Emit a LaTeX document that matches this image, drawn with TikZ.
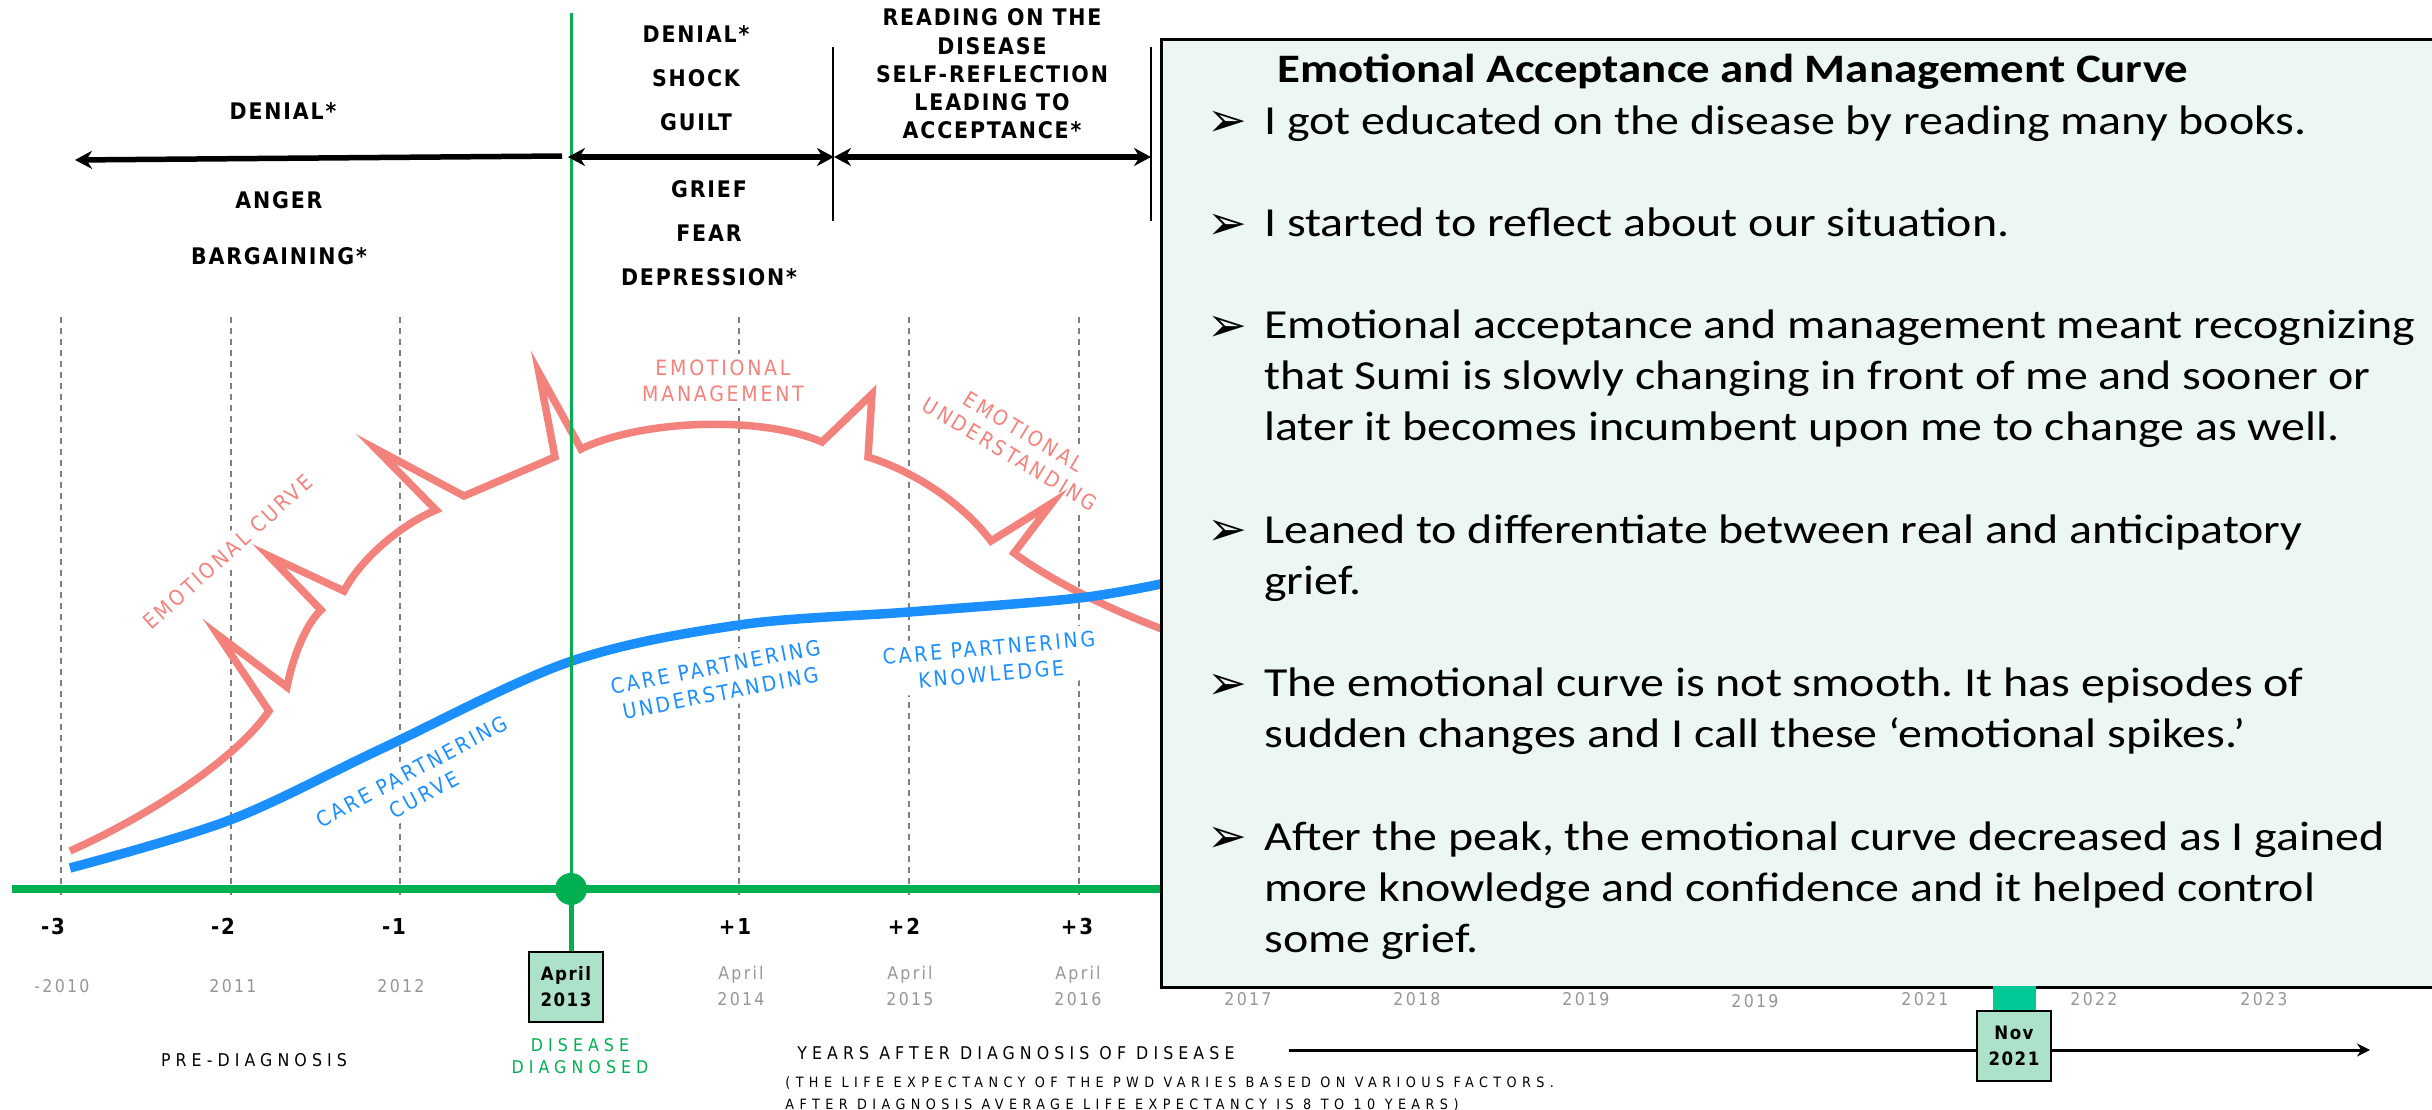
\documentclass[tikz,border=0pt]{standalone}
\usepackage{fontspec}
\setmainfont{Carlito}[FakeStretch=1.16]
\newfontfamily\headfont{DejaVu Sans Condensed}[LetterSpace=8]
\newfontfamily\labfont{DejaVu Sans Condensed}[LetterSpace=13]
\newfontfamily\capfont{DejaVu Sans Condensed}[LetterSpace=29]
\newfontfamily\notefont{DejaVu Sans Condensed}[LetterSpace=38]
\newfontfamily\symfont{DejaVu Sans}
\usetikzlibrary{arrows.meta,positioning,shapes}
\frenchspacing

\definecolor{axisgreen}{RGB}{0,176,80}
\definecolor{emosalmon}{RGB}{244,130,124}
\definecolor{careblue}{RGB}{28,143,255}
\definecolor{notefill}{RGB}{237,247,241}
\definecolor{datefill}{RGB}{171,226,201}
\definecolor{markteal}{RGB}{0,201,150}
\definecolor{yeargray}{RGB}{150,150,150}

\newcommand{\bul}{\raisebox{-1.5pt}{\symfont\fontsize{27}{27}\selectfont ➢}}

\tikzset{
	stage/.style={font=\headfont\bfseries\fontsize{13}{25}\selectfont, align=center, inner sep=0pt},
	phasearrow/.style={line width=1.1mm},
	divider/.style={line width=0.5mm},
	gridline/.style={draw=gray, line width=0.35mm, dash pattern=on 1.2mm off 1mm},
	curvelabel/.style={font=\labfont\fontsize{12}{15}\selectfont, align=center, fill=white, inner sep=1.2mm},
	emoline/.style={draw=emosalmon, line width=1.5mm},
	careline/.style={draw=careblue, line width=1.9mm},
	tick/.style={font=\headfont\bfseries\fontsize{12.5}{15}\selectfont, inner sep=0pt},
	year/.style={font=\labfont\fontsize{10}{14.8}\selectfont, text=yeargray, align=center, inner sep=0pt},
	datebox/.style={draw=black, line width=0.5mm, fill=datefill, minimum width=14.8mm, minimum height=14mm,
		font=\headfont\bfseries\fontsize{10.5}{14.8}\selectfont, align=center, inner sep=0pt},
	caption/.style={font=\capfont\fontsize{10}{12.5}\selectfont, align=center, inner sep=0pt},
	smallcaption/.style={font=\notefont\fontsize{8.1}{12.5}\selectfont, align=left, inner sep=0pt}
}

\begin{document}
\begin{tikzpicture}[x=0.2mm, y=-0.2mm]
	\useasboundingbox (0,0) rectangle (2432,1110);

	% dashed year lines
	\foreach \gx in {61,231,400,739,909,1079}
		\draw[gridline] (\gx,317) -- (\gx,900);

	% labels along the curves
	\node[curvelabel, text=emosalmon, rotate=42] (emocurve) at (228,552) {EMOTIONAL CURVE};
	\node[curvelabel, text=emosalmon] (emomanage) at (723,381) {EMOTIONAL\\MANAGEMENT};
	\node[curvelabel, text=emosalmon, rotate=-31] (emounder) at (1017,443) {EMOTIONAL\\UNDERSTANDING};
	\node[curvelabel, text=careblue, rotate=28] (carecurve) at (418,783) {CARE PARTNERING\\CURVE};
	\node[curvelabel, text=careblue, rotate=11] (careunder) at (718,680) {CARE PARTNERING\\UNDERSTANDING};
	\node[curvelabel, text=careblue, rotate=5] (careknow) at (990,661) {CARE PARTNERING\\KNOWLEDGE};

	% emotional curve with its spikes
	\draw[emoline] (70,851) .. controls (150,815) and (235,760) .. (269,711)
		-- (218,635) -- (287,687) .. controls (292,660) and (305,625) .. (321,610)
		-- (269,556) -- (344,591) .. controls (360,560) and (400,525) .. (436,510)
		-- (376,449) -- (464,496) -- (555,457) -- (539,373) -- (581,449)
		.. controls (640,420) and (760,415) .. (822,442)
		-- (872,394) -- (868,457) .. controls (910,470) and (960,500) .. (991,541)
		-- (1052,503) -- (1014,553) .. controls (1050,580) and (1110,610) .. (1170,632);

	% care partnering curve
	\draw[careline] plot[smooth, tension=0.55] coordinates
		{(70,868) (230,820) (383,748) (569,662) (739,625) (909,612) (1079,598) (1170,582)};

	% time axis and diagnosis marker
	\coordinate (axisstart) at (12,889);
	\coordinate (axisend) at (1165,889);
	\coordinate (diagtop) at (571,13);
	\draw[axisgreen, line width=1.6mm] (axisstart) -- (axisend);
	\node[circle, fill=axisgreen, minimum size=6.4mm, inner sep=0pt] (diag) at (571,889) {};
	\node[datebox] (apr13) at (566,987) {April\\2013};
	\draw[axisgreen, line width=0.6mm] (diagtop) -- (diag);
	\draw[axisgreen, line width=1mm] (diag) -- (diag |- apr13.north);

	% stages above the timeline
	\node[stage] (denialpre) at (283,111) {DENIAL*};
	\node[stage, font=\headfont\bfseries\fontsize{13}{32}\selectfont] (angerpre) at (279,228) {ANGER\\BARGAINING*};
	\node[stage] (shockpost) at (696,78) {DENIAL*\\SHOCK\\GUILT};
	\node[stage] (griefpost) at (709,233) {GRIEF\\FEAR\\DEPRESSION*};
	\node[stage, font=\headfont\bfseries\fontsize{13}{16.1}\selectfont] (readpost) at (992,74)
		{READING ON THE\\DISEASE\\SELF-REFLECTION\\LEADING TO\\ACCEPTANCE*};

	% Arrows
	\coordinate (preend) at (75,160);
	\coordinate (prestart) at (562,156);
	\coordinate (postA) at (568,157);
	\coordinate (postB) at (834,157);
	\coordinate (postC) at (1151,157);
	\draw[phasearrow, -{Stealth[length=3.4mm,width=3.6mm]}] (prestart) -- (preend);
	\draw[phasearrow, {Stealth[length=3.4mm,width=3.6mm]}-{Stealth[length=3.4mm,width=3.6mm]}] (postA) -- (postB);
	\draw[phasearrow, {Stealth[length=3.4mm,width=3.6mm]}-{Stealth[length=3.4mm,width=3.6mm]}] (postB) -- (postC);
	\draw[divider] (833,47) -- (833,221);
	\draw[divider] (1151,47) -- (1151,221);

	% years under the axis
	\node[tick] (tickm3) at (53,926) {-3};
	\node[tick] (tickm2) at (223,926) {-2};
	\node[tick] (tickm1) at (394,926) {-1};
	\node[tick] (tickp1) at (735,926) {+1};
	\node[tick] (tickp2) at (904,926) {+2};
	\node[tick] (tickp3) at (1077,926) {+3};
	\node[year] (y2010) at (62,986) {-2010};
	\node[year] (y2011) at (233,986) {2011};
	\node[year] (y2012) at (401,986) {2012};
	\node[year] (y2014) at (741,986) {April\\2014};
	\node[year] (y2015) at (910,986) {April\\2015};
	\node[year] (y2016) at (1078,986) {April\\2016};

	\node[caption] (prediag) at (254,1060) {PRE-DIAGNOSIS};
	\node[caption, text=axisgreen] (diagnosed) at (580,1056) {DISEASE\\DIAGNOSED};
	\node[caption, anchor=west] (yearsafter) at (797,1053) {YEARS AFTER DIAGNOSIS OF DISEASE};
	\node[smallcaption, anchor=west] (lifenote) at (785,1094)
		{(THE LIFE EXPECTANCY OF THE PWD VARIES BASED ON VARIOUS FACTORS.\\AFTER DIAGNOSIS AVERAGE LIFE EXPECTANCY IS 8 TO 10 YEARS)};

	% note panel
	\node[draw=black, line width=0.6mm, fill=notefill, anchor=north west,
	minimum width=260mm, minimum height=189.6mm, inner sep=0pt] (notebox) at (1160,38) {};
	\node[anchor=base west, inner sep=0pt, font=\fontsize{23.5}{29.1}\selectfont] (notes) at (1207,83) {%
		\begin{tabular}[t]{@{}p{11.4mm}@{}l@{}}
		\multicolumn{2}{@{}l@{}}{\hspace{14mm}\fontsize{23}{29.1}\selectfont\bfseries Emotional Acceptance and Management Curve}\\
		\bul & I got educated on the disease by reading many books.\\
		\\
		\bul & I started to reflect about our situation.\\
		\\
		\bul & Emotional acceptance and management meant recognizing\\
		& that Sumi is slowly changing in front of me and sooner or\\
		& later it becomes incumbent upon me to change as well.\\
		\\
		\bul & Leaned to differentiate between real and anticipatory\\
		& grief.\\
		\\
		\bul & The emotional curve is not smooth. It has episodes of\\
		& sudden changes and I call these `emotional spikes.'\\
		\\
		\bul & After the peak, the emotional curve decreased as I gained\\
		& more knowledge and confidence and it helped control\\
		& some grief.
		\end{tabular}};

	% years after the panel
	\node[year] (y2017) at (1248,999) {2017};
	\node[year] (y2018) at (1417,999) {2018};
	\node[year] (y2019) at (1586,999) {2019};
	\node[year] (y2019b) at (1755,1001) {2019};
	\node[year] (y2021) at (1925,999) {2021};
	\node[year] (y2022) at (2094,999) {2022};
	\node[year] (y2023) at (2264,999) {2023};

	% years arrow and current marker
	\coordinate (yrsstart) at (1289,1050);
	\coordinate (yrsend) at (2370,1050);
	\draw[line width=0.6mm, -{Stealth[length=2.6mm,width=2.6mm]}] (yrsstart) -- (yrsend);
	\node[fill=markteal, minimum width=8.6mm, minimum height=4.8mm, inner sep=0pt] (novbar) at (2014,998) {};
	\node[datebox] (nov21) at (2014,1046) {Nov\\2021};
\end{tikzpicture}
\end{document}
